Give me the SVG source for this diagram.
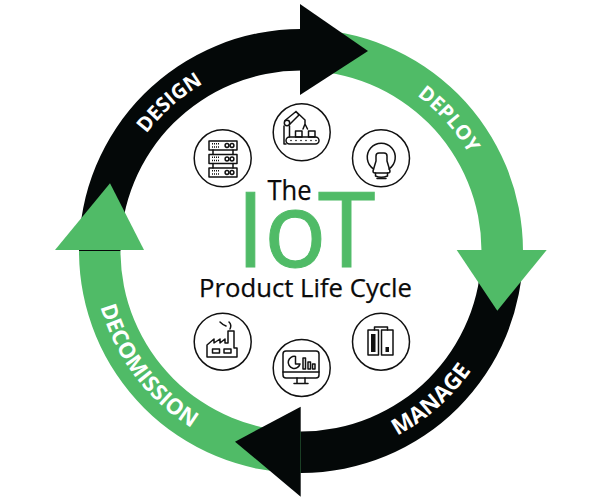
<svg xmlns="http://www.w3.org/2000/svg" width="600" height="500" viewBox="0 0 600 500">
<style>
.g{fill:#50bb67}.k{fill:#040808}
.lbl{font-family:"Open Sans","Noto Sans",sans-serif;font-weight:700;fill:#fff;text-anchor:middle}
.ttl{font-family:"Open Sans","Noto Sans",sans-serif;fill:#0a0a0a;stroke:#0a0a0a;stroke-width:.25}
.iot{font-family:"Open Sans","Noto Sans",sans-serif;font-size:104px;fill:#50bb67;stroke:#50bb67;stroke-width:1}
.ring{fill:#fff;stroke:#111;stroke-width:1.5}
.ic{fill:none;stroke:#111;stroke-width:1.5;stroke-linejoin:round;stroke-linecap:round}
.fk{fill:#111}
</style>
<defs>
<path id="pDesign" d="M109.1 222.7A194 194 0 0 1 295.6 57.1"/>
<path id="pDeploy" d="M329 59A194 194 0 0 1 494.9 245.2"/>
<path id="pManage" d="M305.4 459A208 208 0 0 0 506.5 282.8"/>
<path id="pDecom" d="M109.6 169.4A208 208 0 0 0 326 457.5"/>
</defs>
<rect width="600" height="500" fill="#fff"/>
<g id="connectors">
<path class="k" d="M79 251A222 222 0 0 1 301 29V70.5A180.5 180.5 0 0 0 120.500 251Z"/>
<path class="g" d="M301 29A222 222 0 0 1 523 251H481.500A180.500 180.500 0 0 0 301 70.500Z"/>
<path class="k" d="M523 251A222 222 0 0 1 301 473V431.500A180.500 180.500 0 0 0 481.500 251Z"/>
<path class="g" d="M301 473A222 222 0 0 1 79 251H120.500A180.500 180.500 0 0 0 301 431.500Z"/>
<polygon class="k" points="300,4 300,95 368,51"/>
<polygon class="g" points="456.700,250 546.700,250 497.300,310.700"/>
<polygon class="k" points="300.700,406.700 300.700,496.700 235,441.700"/>
<polygon class="g" points="55,250 144,250 110,183.300"/>
</g>
<g id="labels">
<text class="lbl" font-size="20.500"><textPath href="#pDesign" startOffset="50%">DESIGN</textPath></text>
<text class="lbl" font-size="20"><textPath href="#pDeploy" startOffset="50%">DEPLOY</textPath></text>
<text class="lbl" font-size="22.500"><textPath href="#pManage" startOffset="50%">MANAGE</textPath></text>
<text class="lbl" font-size="22"><textPath href="#pDecom" startOffset="50%">DECOMISSION</textPath></text>
</g>
<g id="title">
<text class="ttl" x="267.500" y="200" font-size="27" textLength="44" lengthAdjust="spacingAndGlyphs">The</text>
<text class="iot" x="236" y="267.300">I</text>
<text class="iot" x="264" y="267.300">o</text>
<text class="iot" x="318" y="267.300">T</text>
<text class="ttl" x="199" y="296.700" font-size="26" textLength="213" lengthAdjust="spacingAndGlyphs">Product Life Cycle</text>
</g>
<g id="icon-server" transform="translate(193 128)">
<circle class="ring" cx="29.700" cy="30.300" r="28.500"/>
<g class="ic"><rect x="16" y="13" width="28" height="9"/><rect x="16" y="26.500" width="28" height="9"/><rect x="16" y="40" width="28" height="9"/><path d="M20 22v4.500M40 22v4.500M20 35.500V40M40 35.500V40"/>
<circle cx="34" cy="17.500" r="1.900"/><circle cx="39" cy="17.500" r="1.900"/><circle cx="34" cy="31" r="1.900"/><circle cx="39" cy="31" r="1.900"/><circle cx="34" cy="44.500" r="1.900"/><circle cx="39" cy="44.500" r="1.900"/>
<path stroke-dasharray="1 1" stroke-linecap="butt" d="M19 15.800h7M19 19h7M19 29.300h7M19 32.500h7M19 42.800h7M19 46h7"/></g>
</g>
<g id="icon-robot" transform="translate(272 102)">
<circle class="ring" cx="29.700" cy="30.300" r="28.500"/>
<g class="ic"><rect x="14" y="35" width="33" height="7" rx="3.500"/><rect x="23.500" y="29" width="6.500" height="6"/><rect x="36.500" y="29" width="6.500" height="6"/>
<circle cx="15" cy="21" r="2.700"/><path d="M12 24V42H14M17.500 24V35"/><path d="M13 18.500L24 9.500L27 13L17.500 22.500M24 9.500L33 18V22M31 27L33 22L35.500 27"/></g>
<g class="fk"><circle cx="19" cy="38.500" r=".8"/><circle cx="24" cy="38.500" r=".8"/><circle cx="29" cy="38.500" r=".8"/><circle cx="34" cy="38.500" r=".8"/><circle cx="39" cy="38.500" r=".8"/><circle cx="44" cy="38.500" r=".8"/></g>
</g>
<g id="icon-scanner" transform="translate(351 128)">
<circle class="ring" cx="30" cy="30.300" r="28.500"/>
<g class="ic"><path d="M22.500 41A14 14 0 1 1 38 41"/><path d="M25 33V28Q25 25 28 25H33Q36 25 36 28V33L39 43Q39 45 37 45H24Q22 45 22 43Z"/><path d="M24.500 45V48Q30 50.500 36.500 48V45"/><path d="M26 50.500H35"/></g>
</g>
<g id="icon-factory" transform="translate(193 312)">
<circle class="ring" cx="29.700" cy="29.700" r="28.500"/>
<g class="ic"><path d="M14 45V33L21 27V31L27 27V31L32 27V31H35V19H41V36H44V45Z"/><rect x="19.500" y="37" width="7" height="4"/><rect x="31" y="37" width="7" height="4"/><path d="M27 10Q30 13 33 14M36 10Q39 13 37 17"/></g>
</g>
<g id="icon-monitor" transform="translate(272 338)">
<circle class="ring" cx="29.700" cy="30" r="28.500"/>
<g class="ic"><rect x="11" y="13" width="36" height="27" rx="3"/><path d="M11 34H47M25 40V45M33 40V45M22 45.500H36"/><path d="M23.500 18.500A6 6 0 1 0 28 26H23.500Z"/><rect x="31" y="20" width="2.500" height="11"/><rect x="36" y="24" width="2.500" height="7"/><rect x="40.500" y="26" width="2.500" height="5"/></g>
</g>
<g id="icon-battery" transform="translate(351 312)">
<circle class="ring" cx="30" cy="29.700" r="28.500"/>
<g class="ic"><path d="M23.500 18V15H36.500V18"/><rect x="17" y="18" width="10.500" height="25"/><rect x="30.500" y="18" width="11.500" height="25"/></g>
<rect class="fk" x="20" y="22" width="4.500" height="18"/><rect class="fk" x="34.500" y="35" width="3.500" height="5"/>
</g>
</svg>
